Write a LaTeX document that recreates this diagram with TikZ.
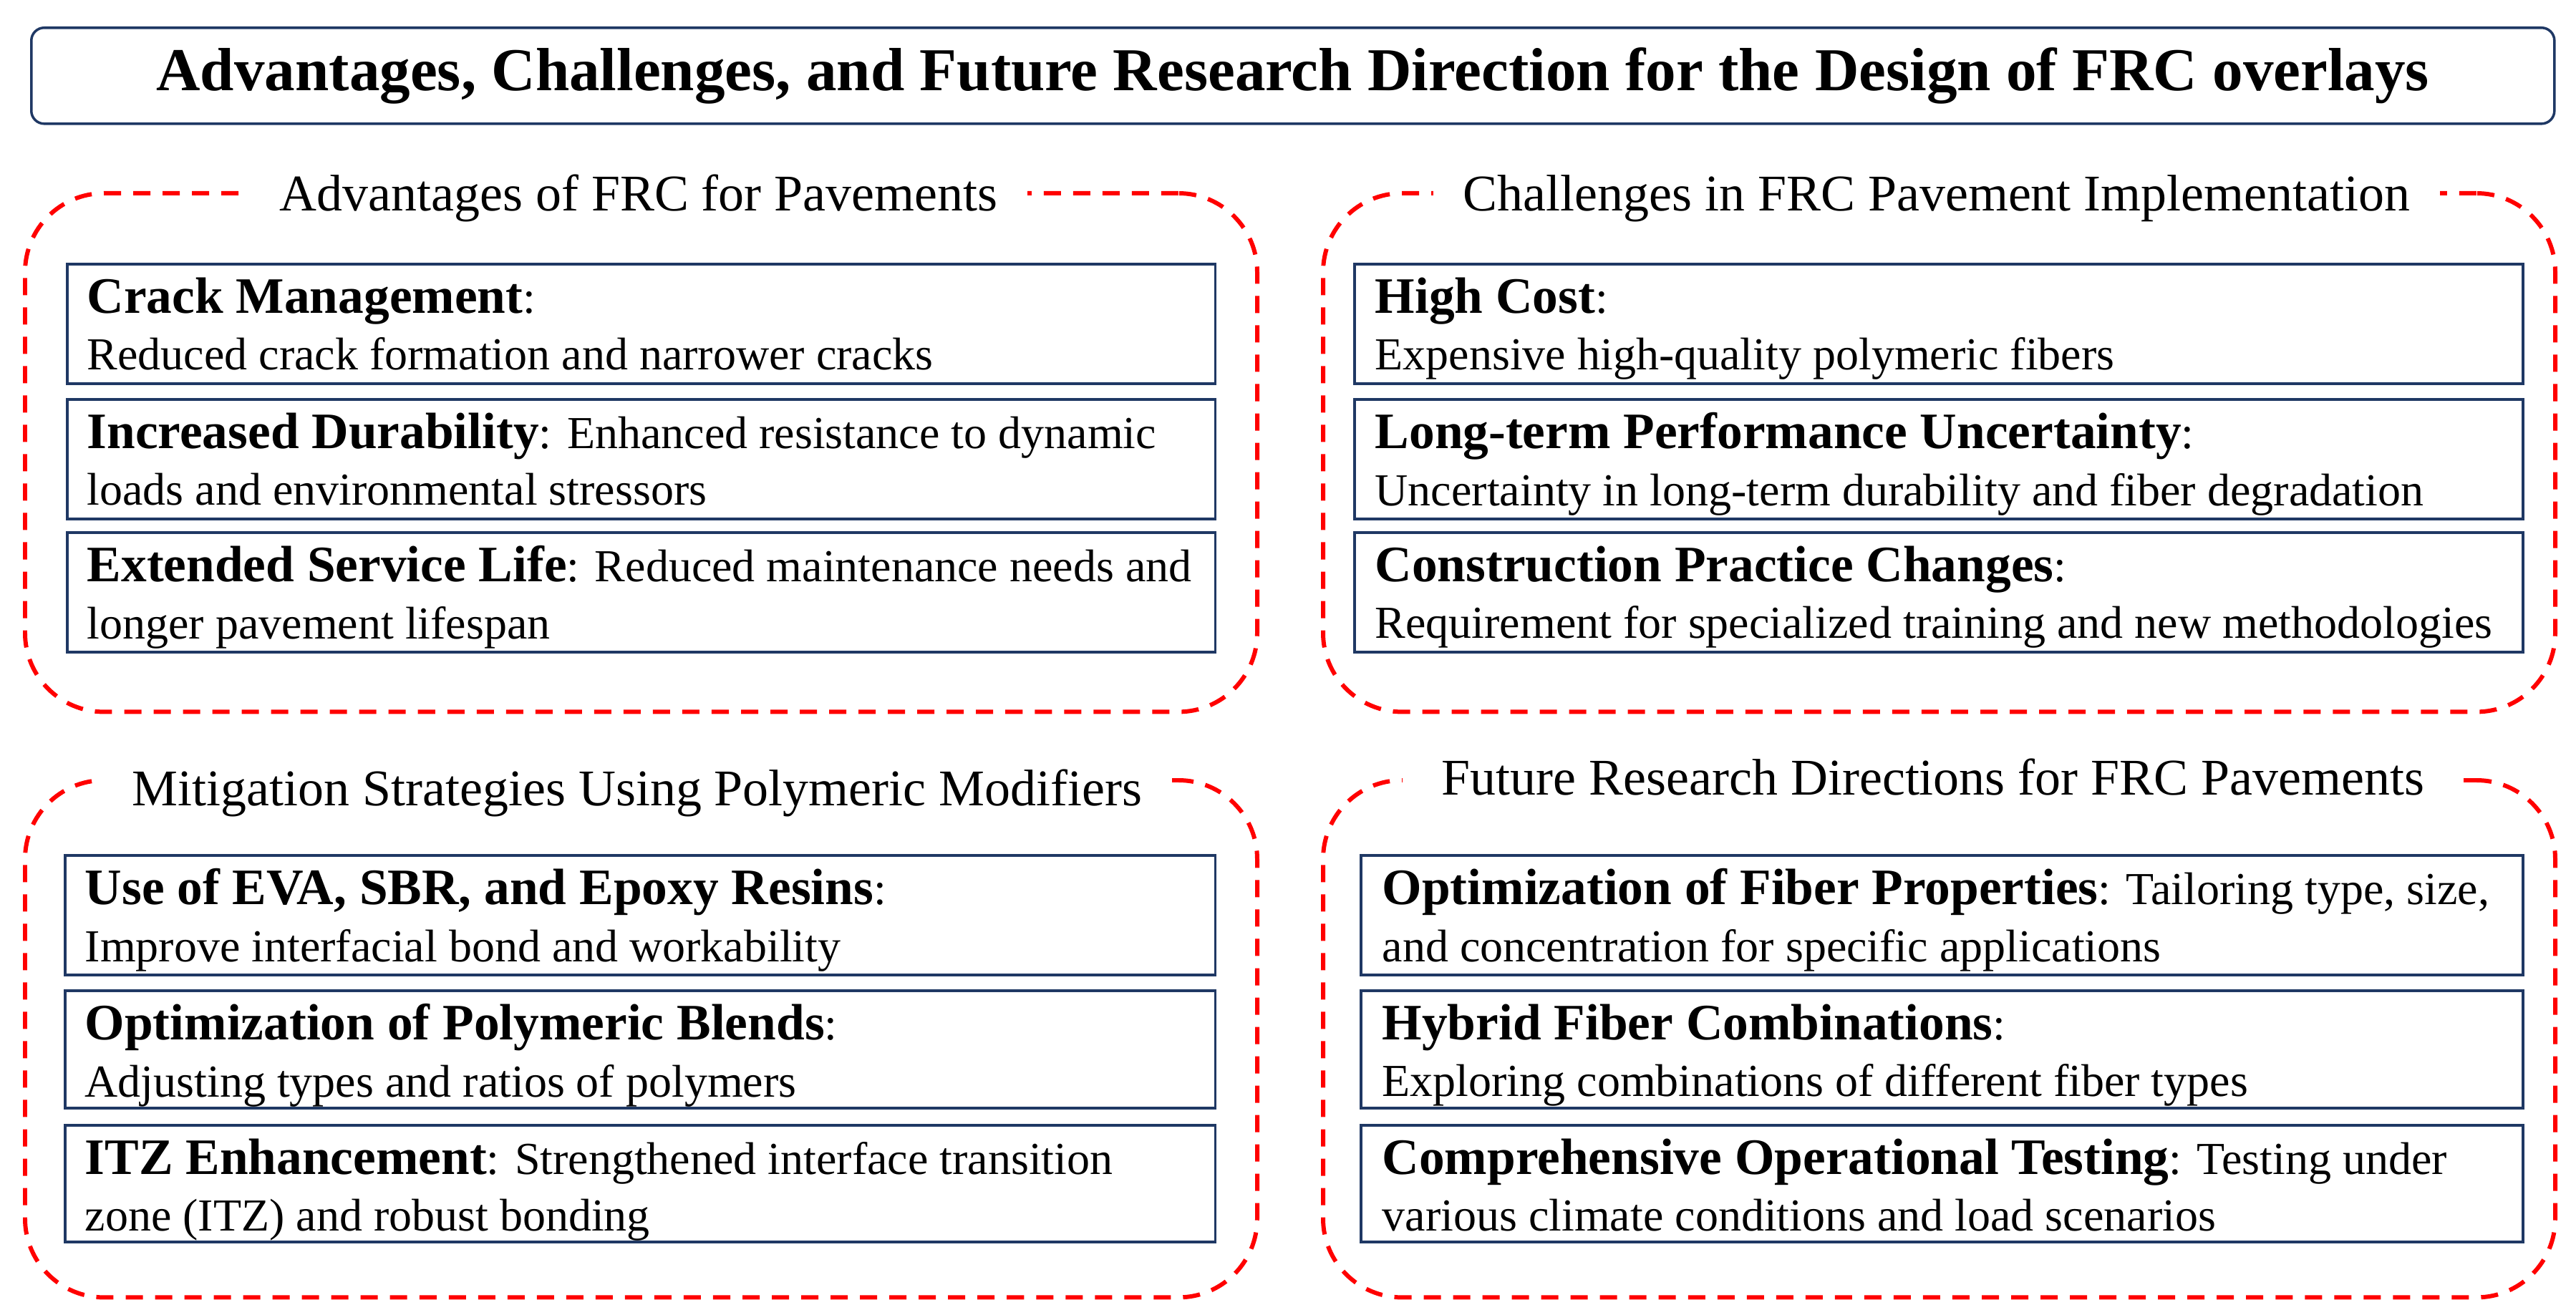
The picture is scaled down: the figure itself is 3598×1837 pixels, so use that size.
\documentclass[tikz,border=0pt]{standalone}
\usepackage{fontspec}
\setmainfont{Liberation Serif}
\definecolor{navy}{RGB}{31,56,100}
\newcommand\hd[1]{{\fontsize{20.3pt}{22.48pt}\selectfont\bfseries #1}}
\begin{document}
\begin{tikzpicture}[x=0.01cm,y=-0.01cm,
  grp/.style={draw=red, line width=1.7pt, dash pattern=on 0.24cm off 0.17cm, rounded corners=1.1cm, anchor=north west, inner sep=0pt, minimum width=17.2cm},
  grptitle/.style={fill=white, inner xsep=0.42cm, inner ysep=2pt, font=\fontsize{20.45pt}{24pt}\selectfont, anchor=base},
  itembox/.style={draw=navy, line width=1pt, anchor=north west, inner sep=0pt, minimum height=1.67cm},
  itemtext/.style={anchor=north west, inner sep=0pt, align=left, font=\fontsize{18.2pt}{22.48pt}\selectfont},
]
\useasboundingbox (0,0) rectangle (3598,1837);

% title
\node[draw=navy, line width=1pt, rounded corners=0.18cm, minimum width=35.22cm, minimum height=1.34cm, anchor=north west, inner sep=0pt, font=\bfseries\fontsize{24.2pt}{29pt}\selectfont] (title) at (42,37) {Advantages, Challenges, and Future Research Direction for the Design of FRC overlays};

% groups
\node[grp, minimum height=7.24cm] (g1) at (32,267) {};
\node[grp, minimum height=7.24cm] (g2) at (1845,267) {};
\node[grp, minimum height=7.22cm] (g3) at (32,1087) {};
\node[grp, minimum height=7.22cm] (g4) at (1845,1087) {};

\node[grptitle] (g1t) at (892,295) {Advantages of FRC for Pavements};
\node[grptitle] (g2t) at (2705,295) {Challenges in FRC Pavement Implementation};
\node[grptitle] (g3t) at (890,1125) {Mitigation Strategies Using Polymeric Modifiers};
\node[grptitle, inner xsep=0.55cm] (g4t) at (2700,1110) {Future Research Directions for FRC Pavements};

% group 1 boxes
\node[itembox, minimum width=16.03cm] (a1) at (92,367) {};
\node[itembox, minimum width=16.03cm] (a2) at (92,556) {};
\node[itembox, minimum width=16.03cm] (a3) at (92,742) {};
\node[itemtext] (a1t) at ([shift={(29,20)}]a1.north west) {\hd{Crack Management}:\\Reduced crack formation and narrower cracks};
\node[itemtext] (a2t) at ([shift={(29,20)}]a2.north west) {\hd{Increased Durability}: Enhanced resistance to dynamic\\loads and environmental stressors};
\node[itemtext] (a3t) at ([shift={(29,20)}]a3.north west) {\hd{Extended Service Life}: Reduced maintenance needs and\\longer pavement lifespan};

% group 2 boxes
\node[itembox, minimum width=16.31cm] (b1) at (1890,367) {};
\node[itembox, minimum width=16.31cm] (b2) at (1890,556) {};
\node[itembox, minimum width=16.31cm] (b3) at (1890,742) {};
\node[itemtext] (b1t) at ([shift={(30,20)}]b1.north west) {\hd{High Cost}:\\Expensive high-quality polymeric fibers};
\node[itemtext] (b2t) at ([shift={(30,20)}]b2.north west) {\hd{Long-term Performance Uncertainty}:\\Uncertainty in long-term durability and fiber degradation};
\node[itemtext] (b3t) at ([shift={(30,20)}]b3.north west) {\hd{Construction Practice Changes}:\\Requirement for specialized training and new methodologies};

% group 3 boxes
\node[itembox, minimum width=16.06cm] (c1) at (89,1193) {};
\node[itembox, minimum width=16.06cm, minimum height=1.64cm] (c2) at (89,1382) {};
\node[itembox, minimum width=16.06cm, minimum height=1.63cm] (c3) at (89,1570) {};
\node[itemtext] (c1t) at ([shift={(29,20)}]c1.north west) {\hd{Use of EVA, SBR, and Epoxy Resins}:\\Improve interfacial bond and workability};
\node[itemtext] (c2t) at ([shift={(29,20)}]c2.north west) {\hd{Optimization of Polymeric Blends}:\\Adjusting types and ratios of polymers};
\node[itemtext] (c3t) at ([shift={(29,20)}]c3.north west) {\hd{ITZ Enhancement}: Strengthened interface transition\\zone (ITZ) and robust bonding};

% group 4 boxes
\node[itembox, minimum width=16.22cm] (d1) at (1899,1193) {};
\node[itembox, minimum width=16.22cm, minimum height=1.64cm] (d2) at (1899,1382) {};
\node[itembox, minimum width=16.22cm, minimum height=1.63cm] (d3) at (1899,1570) {};
\node[itemtext] (d1t) at ([shift={(31,20)}]d1.north west) {\hd{Optimization of Fiber Properties}: Tailoring type, size,\\and concentration for specific applications};
\node[itemtext] (d2t) at ([shift={(31,20)}]d2.north west) {\hd{Hybrid Fiber Combinations}:\\Exploring combinations of different fiber types};
\node[itemtext] (d3t) at ([shift={(31,20)}]d3.north west) {\hd{Comprehensive Operational Testing}: Testing under\\various climate conditions and load scenarios};
\end{tikzpicture}
\end{document}
